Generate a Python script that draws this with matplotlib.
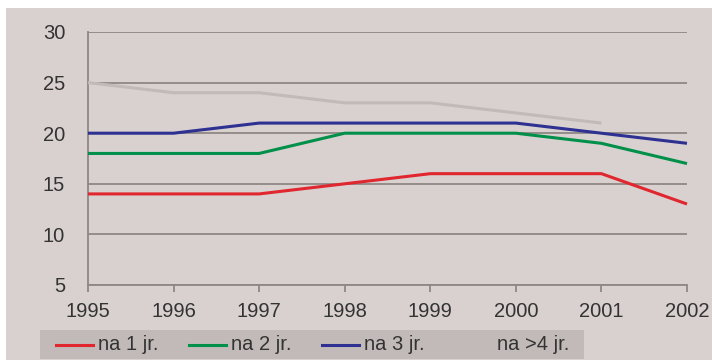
import matplotlib.pyplot as plt
from matplotlib.patches import Rectangle
from matplotlib.lines import Line2D

plt.rcParams['font.family'] = ['Liberation Sans', 'DejaVu Sans']

years = [1995, 1996, 1997, 1998, 1999, 2000, 2001, 2002]
na_1 = [14, 14, 14, 15, 16, 16, 16, 13]
na_2 = [18, 18, 18, 20, 20, 20, 19, 17]
na_3 = [20, 20, 21, 21, 21, 21, 20, 19]
na_4 = [25, 24, 24, 23, 23, 22, 21]  # no value for 2002

labels = ['na 1 jr.', 'na 2 jr.', 'na 3 jr.', 'na >4 jr.']
colors = ['#e0262f', '#00904a', '#2e3192', '#c2bab8']
series = [na_1, na_2, na_3, na_4]

W, H = 712, 360
bg = '#d9d1cf'
legend_bg = '#c2bab8'
grid_c = '#8f8784'
text_c = '#333333'

fig = plt.figure(figsize=(W / 100, H / 100), dpi=100, facecolor='white')
# panel background (thin white margin at top and left)
fig.add_artist(Rectangle((6 / W, 0), 1 - 6 / W, 1 - 8 / H, transform=fig.transFigure,
                         facecolor=bg, edgecolor='none', zorder=0))

ax = fig.add_axes([88 / W, 1 - 285 / H, (687 - 88) / W, (285 - 32) / H])
ax.set_facecolor('none')
ax.set_xlim(1995, 2002)
ax.set_ylim(5, 30)
ax.set_yticks([5, 10, 15, 20, 25, 30])
ax.set_xticks(years)

for s in ['top', 'right']:
    ax.spines[s].set_visible(False)
for s in ['left', 'bottom']:
    ax.spines[s].set_color(grid_c)
    ax.spines[s].set_linewidth(1.3)

ax.grid(axis='y', color=grid_c, linewidth=1.3)
ax.set_axisbelow(True)
ax.tick_params(axis='y', length=0, pad=16.5, labelsize=14.5, labelcolor=text_c)
ax.tick_params(axis='x', length=5, width=1.3, color=grid_c, pad=7.5,
               labelsize=14.5, labelcolor=text_c)

# gray series first so the colored lines sit on top
for vals, col in zip(series[::-1], colors[::-1]):
    ax.plot(years[:len(vals)], vals, color=col, linewidth=2.2,
            solid_capstyle='butt', clip_on=False, zorder=3)

# legend strip
fig.add_artist(Rectangle((40 / W, 1 - 359 / H), (584 - 40) / W, 29 / H,
                         transform=fig.transFigure, facecolor=legend_bg,
                         edgecolor='none', zorder=1))
y_leg = 1 - 345 / H
for i, (lab, col) in enumerate(zip(labels, colors)):
    x0 = 56 + i * 133
    fig.add_artist(Line2D([x0 / W, (x0 + 37) / W], [y_leg, y_leg],
                          transform=fig.transFigure, color=col,
                          linewidth=2.2, zorder=2))
    fig.text((x0 + 42) / W, y_leg, lab, fontsize=14.5, color=text_c,
             va='center', ha='left', zorder=2)

fig.savefig('out.png', dpi=100, facecolor='white')
